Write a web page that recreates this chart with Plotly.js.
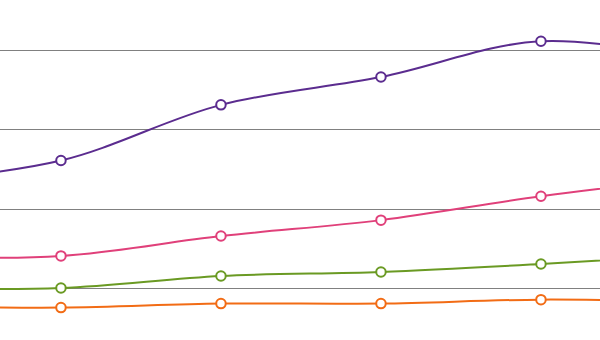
<!DOCTYPE html>
<html><head><meta charset="utf-8">
<script src="https://cdn.plot.ly/plotly-3.0.1.min.js"></script>
<style>html,body{margin:0;padding:0;background:#fff;}#chart{width:600px;height:340px;}</style>
</head><body><div id="chart"></div>
<script>
const categories = [0, 1, 2, 3, 4, 5];
const purple = [23.4, 26.1, 33.1, 36.6, 41.1, 38.6];
const pink = [14.0, 14.1, 16.6, 18.6, 21.6, 24.0];
const green = [10.06, 10.06, 11.57, 12.08, 13.08, 14.3];
const orange = [7.8, 7.6, 8.1, 8.1, 8.6, 8.3];

const colors = ['#5b2c8f', '#e0407a', '#6a9a23', '#f26c15'];
const series = [purple, pink, green, orange];

const traces = series.map((ys, i) => ({
  x: categories, y: ys, type: 'scatter', mode: 'lines+markers',
  line: {color: colors[i], width: 2, shape: 'spline', smoothing: 1},
  marker: {symbol: 'circle', size: 9.5, color: '#fff', line: {color: colors[i], width: 2}},
  hoverinfo: 'none'
}));

Plotly.newPlot('chart', traces, {
  width: 600, height: 340,
  margin: {l: 0, r: 0, t: 0, b: 0},
  paper_bgcolor: '#fff', plot_bgcolor: '#fff',
  showlegend: false,
  xaxis: {range: [0.619, 4.369], showgrid: false, zeroline: false, showticklabels: false, ticks: ''},
  yaxis: {range: [(368-340)/7.95, 368/7.95], dtick: 10, tick0: 0, showgrid: true, gridcolor: '#808080', gridwidth: 1,
          zeroline: false, showticklabels: false, ticks: ''}
}, {displayModeBar: false, staticPlot: true});
</script></body></html>
